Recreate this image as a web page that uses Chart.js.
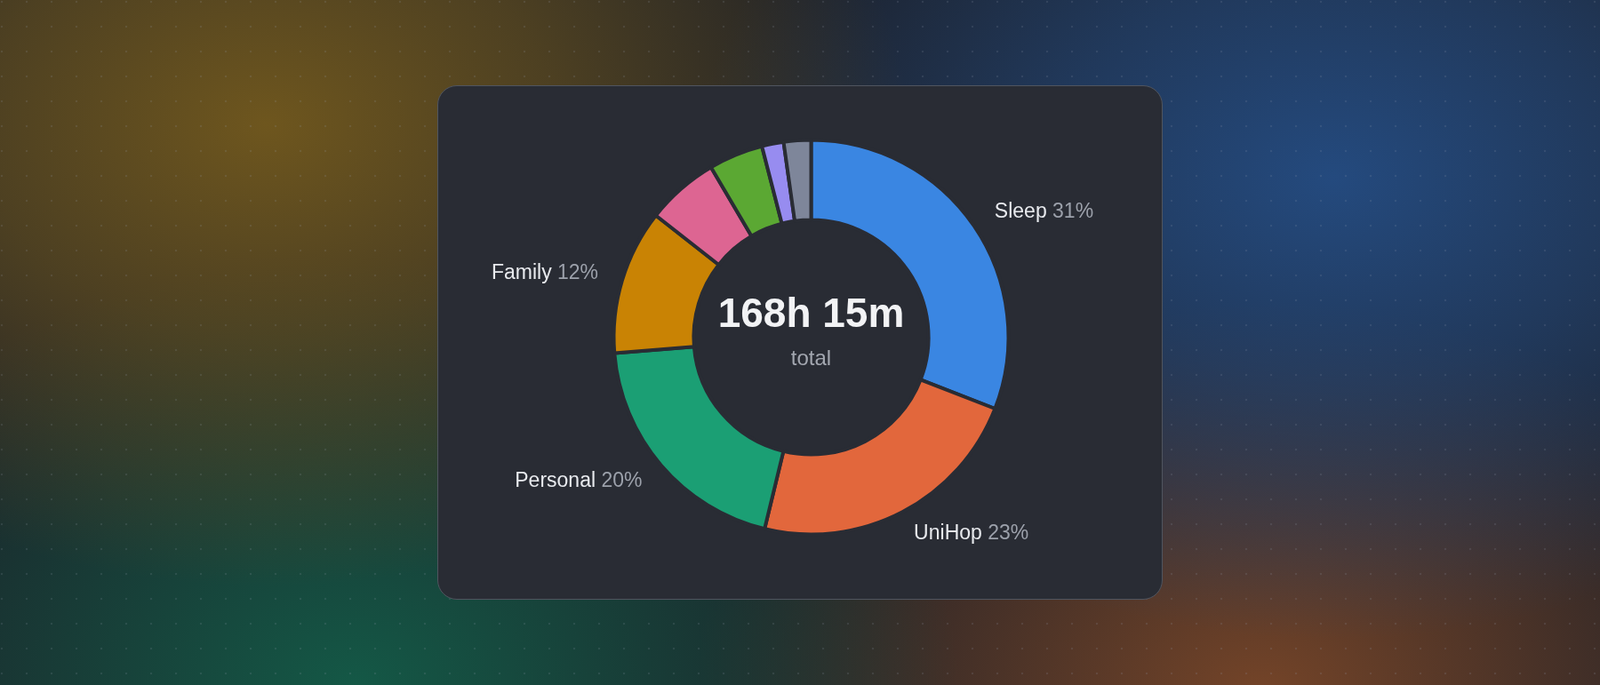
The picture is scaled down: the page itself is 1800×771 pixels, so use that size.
<!DOCTYPE html>
<html>
<head>
<meta charset="utf-8">
<style>
  html, body { margin: 0; padding: 0; }
  body {
    width: 1800px; height: 771px; overflow: hidden; position: relative;
    background:
      radial-gradient(circle at 2px 2px, rgba(150,160,175,0.16) 0, rgba(150,160,175,0.16) 1px, transparent 1.6px) 0 0 / 28px 28px,
      radial-gradient(ellipse 720px 520px at 300px 140px, rgba(110,86,30,1) 0%, rgba(110,86,30,0.6) 45%, rgba(110,86,30,0) 100%),
      radial-gradient(ellipse 720px 520px at 1500px 200px, rgba(36,74,126,1) 0%, rgba(36,74,126,0.6) 45%, rgba(36,74,126,0) 100%),
      radial-gradient(ellipse 680px 480px at 400px 770px, rgba(20,88,70,1) 0%, rgba(20,88,70,0.55) 45%, rgba(20,88,70,0) 100%),
      radial-gradient(ellipse 640px 440px at 1420px 780px, rgba(116,68,40,1) 0%, rgba(116,68,40,0.55) 45%, rgba(116,68,40,0) 100%),
      #1c1f27;
    font-family: "Liberation Sans", Arial, Helvetica, sans-serif;
  }
  #card {
    position: absolute; left: 492px; top: 96px; width: 816px; height: 579px;
    box-sizing: border-box; border: 1px solid #50555f; border-radius: 22px;
    background: #292c34;
  }
</style>
</head>
<body>
<div id="card">
  <canvas id="myChart"></canvas>
</div>
<script src="https://cdn.jsdelivr.net/npm/chart.js"></script>
<script>
  // hours per category for the week
  const categories = ['Sleep', 'UniHop', 'Personal', 'Family', 'Social', 'Exercise', 'Learning', 'Other'];
  const hours = [52, 38.5, 33.5, 20, 10, 7.5, 3, 3.75];
  const sliceColors = ['#3a86e2', '#e2673c', '#1b9f74', '#c98304', '#dd6592', '#5ba833', '#978cf0', '#7e869a'];

  const total = hours.reduce(function (a, b) { return a + b; }, 0);
  const totalText = Math.floor(total) + 'h ' + Math.round((total - Math.floor(total)) * 60) + 'm';

  // labels outside the ring (only big slices)
  const outLabels = {
    id: 'outLabels',
    afterDatasetsDraw: function (chart) {
      const ctx = chart.ctx;
      const meta = chart.getDatasetMeta(0);
      ctx.save();
      ctx.font = '23px "Liberation Sans", Arial, sans-serif';
      ctx.textBaseline = 'middle';
      meta.data.forEach(function (arc, i) {
        const pct = Math.round(hours[i] / total * 100);
        if (pct < 10) return;
        const p = arc.getProps(['x', 'y', 'startAngle', 'endAngle', 'outerRadius'], true);
        const a = (p.startAngle + p.endAngle) / 2;
        const r = p.outerRadius + 28;
        const x = p.x + Math.cos(a) * r;
        const y = p.y + Math.sin(a) * r;
        const name = categories[i] + ' ';
        const val = pct + '%';
        const w1 = ctx.measureText(name).width;
        const w2 = ctx.measureText(val).width;
        const left = Math.cos(a) >= 0 ? x : x - w1 - w2;
        ctx.textAlign = 'left';
        ctx.fillStyle = '#e8eaee';
        ctx.fillText(name, left, y);
        ctx.fillStyle = '#9ca1ab';
        ctx.fillText(val, left + w1, y);
      });
      ctx.restore();
    }
  };

  const centerText = {
    id: 'centerText',
    afterDatasetsDraw: function (chart) {
      const ctx = chart.ctx;
      const arc = chart.getDatasetMeta(0).data[0];
      ctx.save();
      ctx.textAlign = 'center';
      ctx.textBaseline = 'alphabetic';
      ctx.fillStyle = '#f2f3f5';
      ctx.font = 'bold 46px "Liberation Sans", Arial, sans-serif';
      ctx.fillText(totalText, arc.x, arc.y - 12);
      ctx.fillStyle = '#a3a7b0';
      ctx.font = '24px "Liberation Sans", Arial, sans-serif';
      ctx.fillText('total', arc.x, arc.y + 31);
      ctx.restore();
    }
  };

  new Chart(document.getElementById('myChart'), {
    type: 'doughnut',
    data: {
      labels: categories,
      datasets: [{
        data: hours,
        backgroundColor: sliceColors,
        borderColor: '#292c34',
        borderWidth: 4
      }]
    },
    options: {
      responsive: true,
      maintainAspectRatio: false,
      animation: false,
      events: [],
      radius: 222,
      cutout: '59.5%',
      layout: { padding: { left: 25, right: 0, top: 0, bottom: 12 } },
      plugins: {
        legend: { display: false },
        tooltip: { enabled: false }
      }
    },
    plugins: [outLabels, centerText]
  });
</script>
</body>
</html>
